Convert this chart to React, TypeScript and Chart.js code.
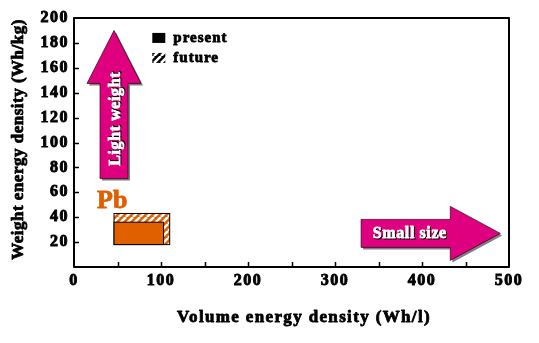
import React, { useEffect, useRef } from "react";
import { Chart, registerables } from "chart.js";

Chart.register(...registerables);

// ---- data ----
const xLimits = [0, 500];
const yLimits = [0, 200];
const xTickStep = 50;
const xLabelStep = 100;
const yTickStep = 20;
const xTitle = "Volume energy density (Wh/l)";
const yTitle = "Weight energy density (Wh/kg)";
const seriesLabels = ["present", "future"];
const batteryLabel = "Pb";
const pbPresentX = [46, 103];
const pbPresentY = [18, 36];
const pbFutureX = [46, 110];
const pbFutureY = [18, 43];
const arrowLabels = ["Light weight", "Small size"];

const FONT = "'Liberation Serif', 'Times New Roman', serif";
const ORANGE = "#E06000";
const MAGENTA = "#DE007E";

// annotation anchors in data units
const lightArrow = { tail: [46, 71], tip: [46, 190], text: [46, 119] };
const smallArrow = { tail: [330, 27], tip: [490, 27], text: [386, 27] };
const pbLabelAt = [44, 53];
const legendAt = [90, 184];

function makeHatch(bg: string, fg: string) {
  const c = document.createElement("canvas");
  c.width = 7;
  c.height = 7;
  const g = c.getContext("2d")!;
  g.fillStyle = bg;
  g.fillRect(0, 0, 7, 7);
  g.strokeStyle = fg;
  g.lineWidth = 2.6;
  g.beginPath();
  for (const o of [-7, 0, 7]) {
    g.moveTo(o, 7);
    g.lineTo(o + 7, 0);
  }
  g.stroke();
  return g.createPattern(c, "repeat")!;
}

function drawArrow(ctx: CanvasRenderingContext2D, t: number[], p: number[], bodyHalf: number, headHalf: number, headLen: number) {
  const dx = p[0] - t[0];
  const dy = p[1] - t[1];
  const len = Math.hypot(dx, dy);
  const ux = dx / len, uy = dy / len;
  const nx = -uy, ny = ux;
  const bx = p[0] - ux * headLen, by = p[1] - uy * headLen;
  const pts = [
    [t[0] + nx * bodyHalf, t[1] + ny * bodyHalf],
    [bx + nx * bodyHalf, by + ny * bodyHalf],
    [bx + nx * headHalf, by + ny * headHalf],
    [p[0], p[1]],
    [bx - nx * headHalf, by - ny * headHalf],
    [bx - nx * bodyHalf, by - ny * bodyHalf],
    [t[0] - nx * bodyHalf, t[1] - ny * bodyHalf],
  ];
  const path = (ox: number, oy: number) => {
    ctx.beginPath();
    pts.forEach((q, i) => (i === 0 ? ctx.moveTo(q[0] + ox, q[1] + oy) : ctx.lineTo(q[0] + ox, q[1] + oy)));
    ctx.closePath();
  };
  path(2, 2);
  ctx.fillStyle = "#808080";
  ctx.fill();
  path(0, 0);
  ctx.fillStyle = MAGENTA;
  ctx.fill();
  ctx.strokeStyle = "rgba(40,0,20,0.7)";
  ctx.lineWidth = 1;
  ctx.stroke();
}

function heavyText(ctx: CanvasRenderingContext2D, text: string, x: number, y: number, color: string) {
  ctx.fillStyle = color;
  ctx.strokeStyle = color;
  ctx.lineWidth = 0.8;
  ctx.lineJoin = "round";
  ctx.fillText(text, x, y);
  ctx.strokeText(text, x, y);
}

function shadowText(ctx: CanvasRenderingContext2D, text: string, x: number, y: number) {
  heavyText(ctx, text, x + 1, y + 1, "#000");
  heavyText(ctx, text, x, y, "#fff");
}

const overlay = {
  id: "overlay",
  beforeDraw(chart: any) {
    (chart.ctx as any).letterSpacing = "1.5px";
  },
  afterDraw(chart: any) {
    const ctx: CanvasRenderingContext2D = chart.ctx;
    (ctx as any).letterSpacing = "0px";
    const xs = chart.scales.x;
    const ys = chart.scales.y;
    const X = (v: number) => xs.getPixelForValue(v);
    const Y = (v: number) => ys.getPixelForValue(v);
    const ca = chart.chartArea;
    ctx.save();

    // Pb rectangles from datasets
    const ds = chart.data.datasets;
    const fut = ds[1].data;
    const pre = ds[0].data;
    ctx.fillStyle = makeHatch(ORANGE, "#fff");
    const fx0 = X(fut[0].x), fx1 = X(fut[1].x), fy0 = Y(fut[0].y), fy1 = Y(fut[1].y);
    ctx.fillRect(fx0, fy1, fx1 - fx0, fy0 - fy1);
    ctx.strokeStyle = "#000";
    ctx.lineWidth = 1;
    ctx.strokeRect(fx0, fy1, fx1 - fx0, fy0 - fy1);
    const px0 = X(pre[0].x), px1 = X(pre[1].x), py0 = Y(pre[0].y), py1 = Y(pre[1].y);
    ctx.fillStyle = ORANGE;
    ctx.fillRect(px0, py1, px1 - px0, py0 - py1);
    ctx.strokeRect(px0, py1, px1 - px0, py0 - py1);

    // Pb label
    ctx.font = `bold 26px ${FONT}`;
    ctx.textAlign = "center";
    ctx.textBaseline = "middle";
    heavyText(ctx, batteryLabel, X(pbLabelAt[0]), Y(pbLabelAt[1]), ORANGE);

    // arrows
    const pt = (a: number[]) => [X(a[0]), Y(a[1])];
    drawArrow(ctx, pt(lightArrow.tail), pt(lightArrow.tip), 14, 27, 53);
    drawArrow(ctx, pt(smallArrow.tail), pt(smallArrow.tip), 14, 27, 50);
    ctx.font = `bold 16px ${FONT}`;
    (ctx as any).letterSpacing = "0.6px";
    ctx.save();
    ctx.translate(X(lightArrow.text[0]) + 2, Y(lightArrow.text[1]));
    ctx.rotate(-Math.PI / 2);
    shadowText(ctx, arrowLabels[0], 0, 0);
    ctx.restore();
    shadowText(ctx, arrowLabels[1], X(smallArrow.text[0]), Y(smallArrow.text[1]));

    // legend
    const lx = X(legendAt[0]);
    const ly = Y(legendAt[1]);
    ctx.fillStyle = "#000";
    ctx.fillRect(lx, ly - 5, 13, 10);
    ctx.fillStyle = makeHatch("#000", "#fff");
    ctx.fillRect(lx, ly + 15, 13, 10);
    ctx.font = `bold 15px ${FONT}`;
    (ctx as any).letterSpacing = "1px";
    ctx.textAlign = "left";
    heavyText(ctx, seriesLabels[0], lx + 21, ly, "#000");
    heavyText(ctx, seriesLabels[1], lx + 21, ly + 20, "#000");

    // frame
    (ctx as any).letterSpacing = "0px";
    ctx.strokeStyle = "#000";
    ctx.lineWidth = 2;
    ctx.strokeRect(ca.left, ca.top, ca.right - ca.left, ca.bottom - ca.top);
    // inward ticks
    ctx.lineWidth = 1.5;
    ctx.beginPath();
    for (let v = xLimits[0] + xTickStep; v < xLimits[1]; v += xTickStep) {
      const x = Math.round(X(v)) + 0.5;
      ctx.moveTo(x, ca.bottom);
      ctx.lineTo(x, ca.bottom - 5);
    }
    for (let v = yLimits[0] + yTickStep; v < yLimits[1]; v += yTickStep) {
      const y = Math.round(Y(v)) + 0.5;
      ctx.moveTo(ca.left, y);
      ctx.lineTo(ca.left + 5, y);
    }
    ctx.stroke();

    // axis titles
    ctx.font = `bold 17px ${FONT}`;
    ctx.textAlign = "center";
    ctx.textBaseline = "middle";
    (ctx as any).letterSpacing = "1.35px";
    heavyText(ctx, xTitle, ca.left + 230, ca.bottom + 51, "#000");
    (ctx as any).letterSpacing = "0.5px";
    ctx.save();
    ctx.translate(19, (ca.top + ca.bottom) / 2 - 3);
    ctx.rotate(-Math.PI / 2);
    heavyText(ctx, yTitle, 0, 0, "#000");
    ctx.restore();

    ctx.restore();
  },
};

export default function App() {
  const ref = useRef<HTMLCanvasElement>(null);
  useEffect(() => {
    const tickFont = { family: FONT, size: 16, weight: "bold" as const };
    const chart = new Chart(ref.current!, {
      type: "scatter",
      data: {
        datasets: [
          {
            label: seriesLabels[0],
            data: [
              { x: pbPresentX[0], y: pbPresentY[0] },
              { x: pbPresentX[1], y: pbPresentY[1] },
            ],
            pointRadius: 0,
            showLine: false,
          },
          {
            label: seriesLabels[1],
            data: [
              { x: pbFutureX[0], y: pbFutureY[0] },
              { x: pbFutureX[1], y: pbFutureY[1] },
            ],
            pointRadius: 0,
            showLine: false,
          },
        ],
      },
      options: {
        responsive: false,
        animation: false,
        events: [],
        layout: { padding: { left: 0, top: 18, right: 30, bottom: 0 } },
        plugins: { legend: { display: false }, tooltip: { enabled: false } },
        scales: {
          x: {
            type: "linear",
            position: "bottom",
            min: xLimits[0],
            max: xLimits[1],
            afterFit: (s: any) => {
              s.height = 76;
            },
            grid: { display: false, drawTicks: false },
            border: { display: false },
            ticks: {
              stepSize: xTickStep,
              autoSkip: false,
              maxRotation: 0,
              padding: 4,
              color: "#000",
              textStrokeColor: "#000",
              textStrokeWidth: 0.9,
              font: tickFont,
              callback: (v: any) => (Number(v) % xLabelStep === 0 ? String(v) : ""),
            },
          },
          y: {
            type: "linear",
            min: yLimits[0],
            max: yLimits[1],
            afterFit: (s: any) => {
              s.width = 74;
            },
            grid: { display: false, drawTicks: false },
            border: { display: false },
            ticks: {
              stepSize: yTickStep,
              autoSkip: false,
              padding: 5,
              color: "#000",
              textStrokeColor: "#000",
              textStrokeWidth: 0.9,
              font: tickFont,
              callback: (v: any) => (Number(v) === 0 ? "" : String(v)),
            },
          },
        },
      },
      plugins: [overlay],
    });
    return () => chart.destroy();
  }, []);
  return (
    <div style={{ position: "fixed", left: 0, top: 0, width: 539, height: 343, background: "#fff" }}>
      <canvas ref={ref} width={539} height={343} style={{ display: "block" }} />
    </div>
  );
}
